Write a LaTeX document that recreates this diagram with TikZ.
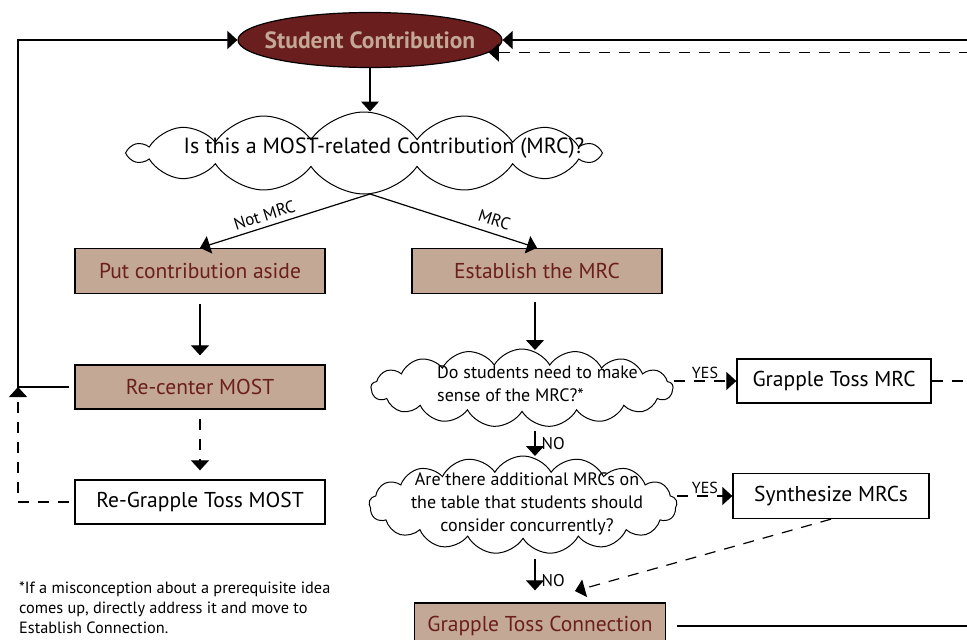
\documentclass[tikz,border=0pt]{standalone}
\usepackage{fontspec}
\setmainfont{PT Sans}
\usepackage{tikz}
\usetikzlibrary{calc,arrows.meta,shapes.geometric,shapes.symbols}
\definecolor{mostred}{RGB}{107,30,30}
\definecolor{mosttan}{RGB}{196,168,150}

\begin{document}
\begin{tikzpicture}[x=1pt, y=-1pt,
          stepbox/.style={draw, line width=1.3pt, minimum width=250pt, minimum height=45pt, inner sep=0pt, font=\fontsize{21.5}{24}\selectfont},
          tanbox/.style={stepbox, fill=mosttan, text=mostred},
          plainbox/.style={stepbox, fill=white},
          puff/.style={cloud, cloud puffs=14, cloud puff arc=110, cloud ignores aspect, draw, line width=1pt, inner sep=0pt},
          ask/.style={font=\fontsize{18}{23}\selectfont, inner sep=0pt},
          tag/.style={font=\fontsize{17}{19}\selectfont, inner sep=2pt},
          wire/.style={line width=1.2pt},
          link/.style={wire, -{Triangle[width=18pt,length=10pt]}},
          dlink/.style={link, dash pattern=on 11pt off 9pt},
        ]
        \useasboundingbox (0,0) rectangle (967,640);
        \clip (0,0) rectangle (967,640);
        % off-page ends
        \coordinate (rim) at (990,40);
        \coordinate (lft) at (18,40);
        \coordinate (synin) at (575,591);

        \node[ellipse, draw, line width=1.2pt, fill=mostred, minimum width=264pt, minimum height=55pt,
              label={[text=mosttan, font=\fontsize{23.5}{26}\selectfont\bfseries]center:Student Contribution}] (contrib) at (370,40) {};

        \node[puff, minimum width=468pt, minimum height=82pt] (askmrc) at (364,153) {};
        \node[ask, font=\fontsize{22}{25}\selectfont] at (384,148) {Is this a MOST-related Contribution (MRC)?};
        \coordinate (fork) at ($(askmrc.center)+(6,41)$);

        \node[tanbox] (aside) at (200,271) {Put contribution aside};
        \node[tanbox] (estab) at (537,271) {Establish the MRC};
        \node[tanbox, minimum height=44pt] (recenter) at (200,387) {Re-center MOST};
        \node[plainbox, minimum height=44pt] (regrap) at (200,502) {Re-Grapple Toss MOST};

        \node[puff, cloud puffs=17, cloud puff arc=120, minimum width=302pt, minimum height=78pt] (needsense) at (522,388) {};
        \node[ask, align=left, anchor=west] at (437,384) {Do students need to make\\sense of the MRC?*};
        \node[plainbox, minimum width=194pt, minimum height=44pt] (tossmrc) at (834,381) {Grapple Toss MRC};

        \node[puff, cloud puffs=17, cloud puff arc=120, minimum width=308pt, minimum height=98pt] (addmrc) at (523,505) {};
        \node[ask, align=center] at (527,504) {Are there additional MRCs on\\the table that students should\\consider concurrently?};
        \node[plainbox, minimum width=196pt] (synth) at (831,496) {Synthesize MRCs};

        \node[tanbox, minimum width=251pt, minimum height=46pt] (tossconn) at (540,626) {Grapple Toss Connection};

        \node[font=\fontsize{16.3}{20}\selectfont, align=left, anchor=north west, inner sep=0pt] (note) at (19,582)
          {*If a misconception about a prerequisite idea\\comes up, directly address it and move to\\Establish Connection.};

        \draw[link] (contrib.south) -- (contrib.south |- askmrc.north);
        \draw[link] (fork) -- (aside.north) node[tag, pos=0.6, sloped, above, inner sep=5pt] {Not MRC};
        \draw[link] (fork) -- (estab.north) node[tag, pos=0.72, sloped, above, inner sep=7pt] {MRC};

        \draw[link, shorten <=10pt, shorten >=9pt] (aside) -- (recenter);
        \draw[dlink, shorten <=9pt, shorten >=9pt] (recenter) -- (regrap);
        \draw[link, shorten <=5pt] (recenter.west) -| (lft) -- (contrib.west);
        \draw[dlink, shorten <=5pt] (regrap.west) -| (recenter.west -| lft);

        \draw[link] (rim) -- (contrib.east);
        \draw[dlink] (contrib.-6 -| rim) -- (contrib.-6);

        \draw[link, shorten <=8pt] (estab.south -| 535,0) -- ($(needsense.center)+(13,-38)$);
        \draw[dlink] (needsense.east |- tossmrc.west) -- (tossmrc.west) node[tag, font=\fontsize{16}{18}\selectfont, midway, above] {YES};
        \draw[wire, dash pattern=on 11pt off 9pt] (tossmrc.east) -- (tossmrc.east -| rim);

        \draw[link] ($(needsense.center)+(13,43)$) -- ($(addmrc.center)+(12,-49)$) node[tag, midway, right, inner sep=6pt] {NO};
        \draw[dlink] (addmrc.east |- synth.west) -- (synth.west) node[tag, font=\fontsize{16}{18}\selectfont, midway, above] {YES};

        \draw[link, shorten >=12pt] ($(addmrc.center)+(12,54)$) -- (tossconn.north -| 535,0) node[tag, midway, right, inner sep=6pt] {NO};
        \draw[dlink] (synth.south) -- (synin);
        \draw[wire, shorten <=11pt] (tossconn.east) -- (tossconn.east -| rim);
      \end{tikzpicture}
\end{document}
